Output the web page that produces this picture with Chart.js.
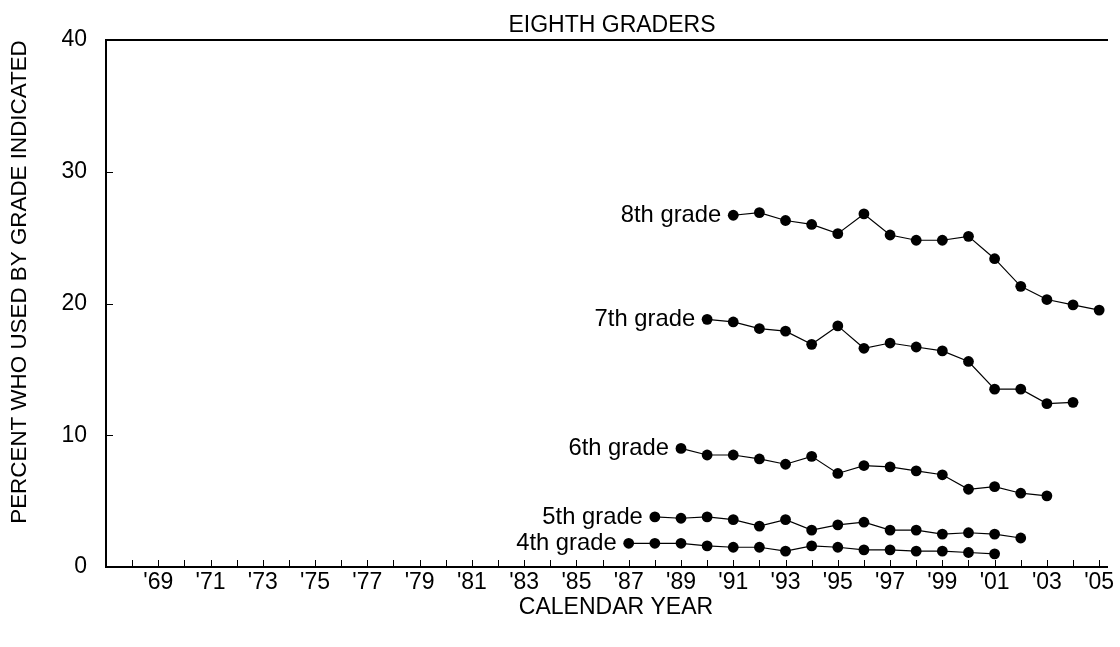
<!DOCTYPE html>
<html><head><meta charset="utf-8">
<script src="https://cdn.jsdelivr.net/npm/chart.js@4"></script>
<style>html,body{margin:0;padding:0;background:#fff}canvas{display:block}</style>
</head><body>
<canvas id="c" width="1120" height="647"></canvas>
<script>
const chartTitle = 'EIGHTH GRADERS';
const xAxisTitle = 'CALENDAR YEAR';
const yAxisTitle = 'PERCENT WHO USED BY GRADE INDICATED';
const seriesLabels = ['8th grade', '7th grade', '6th grade', '5th grade', '4th grade'];
const years8 = [1991,1992,1993,1994,1995,1996,1997,1998,1999,2000,2001,2002,2003,2004,2005];
const years7 = [1990,1991,1992,1993,1994,1995,1996,1997,1998,1999,2000,2001,2002,2003,2004];
const years6 = [1989,1990,1991,1992,1993,1994,1995,1996,1997,1998,1999,2000,2001,2002,2003];
const years5 = [1988,1989,1990,1991,1992,1993,1994,1995,1996,1997,1998,1999,2000,2001,2002];
const years4 = [1987,1988,1989,1990,1991,1992,1993,1994,1995,1996,1997,1998,1999,2000,2001];
const grade8 = [26.7,26.9,26.3,26.0,25.3,26.8,25.2,24.8,24.8,25.1,23.4,21.3,20.3,19.9,19.5];
const grade7 = [18.8,18.6,18.1,17.9,16.9,18.3,16.6,17.0,16.7,16.4,15.6,13.5,13.5,12.4,12.5];
const grade6 = [9.0,8.5,8.5,8.2,7.8,8.4,7.1,7.7,7.6,7.3,7.0,5.9,6.1,5.6,5.4];
const grade5 = [3.8,3.7,3.8,3.6,3.1,3.6,2.8,3.2,3.4,2.8,2.8,2.5,2.6,2.5,2.2];
const grade4 = [1.8,1.8,1.8,1.6,1.5,1.5,1.2,1.6,1.5,1.3,1.3,1.2,1.2,1.1,1.0];
const tickYears = [1968,1969,1970,1971,1972,1973,1974,1975,1976,1977,1978,1979,1980,1981,1982,1983,1984,1985,1986,1987,1988,1989,1990,1991,1992,1993,1994,1995,1996,1997,1998,1999,2000,2001,2002,2003,2004,2005];
const labeledYears = [1969,1971,1973,1975,1977,1979,1981,1983,1985,1987,1989,1991,1993,1995,1997,1999,2001,2003,2005];
const yTicks = [0,10,20,30,40];

const FONT = '"Liberation Sans", Arial, Helvetica, sans-serif';
const FS = 23;
Chart.defaults.color = '#000';
Chart.defaults.font.family = FONT;

const allYears = [years8, years7, years6, years5, years4];
const allVals = [grade8, grade7, grade6, grade5, grade4];
const datasets = allVals.map((vals, i) => ({
  label: seriesLabels[i],
  data: vals.map((v, j) => ({x: allYears[i][j], y: v})),
  borderColor: '#000',
  backgroundColor: '#000',
  borderWidth: 1.2,
  pointRadius: 5.4,
  pointBorderWidth: 0,
  pointBackgroundColor: '#000',
  tension: 0
}));

const framePlugin = {
  id: 'frame',
  afterDraw(chart) {
    const {ctx, chartArea: a, scales: {x, y}} = chart;
    ctx.save();
    ctx.strokeStyle = '#000';
    ctx.lineWidth = 2;
    ctx.beginPath(); ctx.moveTo(a.left - 1, Math.round(a.top)); ctx.lineTo(a.right + 1, Math.round(a.top)); ctx.stroke();
    ctx.lineWidth = 1;
    tickYears.forEach(v => {
      const px = Math.round(x.getPixelForValue(v)) + 0.5;
      ctx.beginPath(); ctx.moveTo(px, a.bottom); ctx.lineTo(px, a.bottom - 7); ctx.stroke();
    });
    yTicks.slice(1, -1).forEach(v => {
      const py = Math.round(y.getPixelForValue(v)) + 0.5;
      ctx.beginPath(); ctx.moveTo(a.left, py); ctx.lineTo(a.left + 7, py); ctx.stroke();
    });
    // titles
    ctx.fillStyle = '#000';
    ctx.font = FS + 'px ' + FONT;
    ctx.textAlign = 'center';
    ctx.textBaseline = 'middle';
    ctx.fillText(chartTitle, 612, 26);
    ctx.fillText(xAxisTitle, 616, 608);
    ctx.save();
    ctx.font = '22.4px ' + FONT;
    ctx.translate(20, 282);
    ctx.rotate(-Math.PI / 2);
    ctx.fillText(yAxisTitle, 0, 0);
    ctx.restore();
    ctx.restore();
  },
  afterDatasetsDraw(chart) {
    const ctx = chart.ctx;
    ctx.save();
    ctx.fillStyle = '#000';
    ctx.font = '23.8px ' + FONT;
    ctx.textAlign = 'right';
    ctx.textBaseline = 'middle';
    chart.data.datasets.forEach((ds, i) => {
      const p = chart.getDatasetMeta(i).data[0];
      ctx.fillText(ds.label, p.x - 12, p.y);
    });
    ctx.restore();
  }
};

new Chart(document.getElementById('c'), {
  type: 'line',
  data: {datasets},
  options: {
    responsive: false,
    devicePixelRatio: 1,
    animation: false,
    layout: {padding: {left: 0, right: 13, top: 40, bottom: 28.5}},
    plugins: {
      legend: {display: false},
      tooltip: {enabled: false},
      title: {display: false}
    },
    scales: {
      x: {
        type: 'linear', min: 1967, max: 2005.3,
        afterBuildTicks: s => { s.ticks = tickYears.map(v => ({value: v})); },
        afterFit: s => { s.height = 51.5; },
        grid: {display: false, drawTicks: false},
        border: {display: true, color: '#000', width: 2},
        ticks: {
          autoSkip: false, maxRotation: 0, padding: 4.5,
          font: {size: FS, family: FONT, lineHeight: 1},
          callback: v => labeledYears.includes(v) ? "'" + String(v).slice(2) : ''
        }
      },
      y: {
        min: 0, max: 40,
        afterBuildTicks: s => { s.ticks = yTicks.map(v => ({value: v})); },
        afterFit: s => { s.width = 106; },
        grid: {display: false, drawTicks: false},
        border: {display: true, color: '#000', width: 2},
        ticks: {padding: 19, font: {size: FS, family: FONT, lineHeight: 1}}
      }
    }
  },
  plugins: [framePlugin]
});
</script>
</body></html>
